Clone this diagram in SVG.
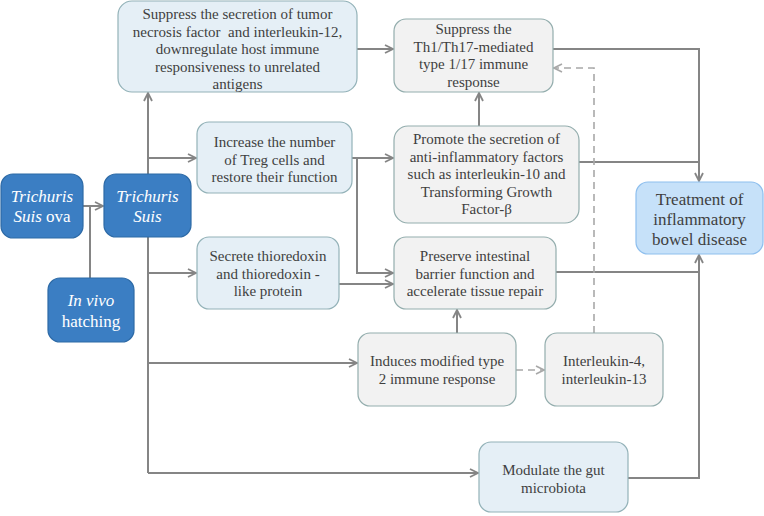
<svg xmlns="http://www.w3.org/2000/svg" width="764" height="516" viewBox="0 0 764 516">
  <style>
    text { font-family: "Liberation Serif", "DejaVu Serif", serif; }
    .blue rect { fill: #3B7EC3; stroke: #2D6AA6; stroke-width: 1.2; }
    .blue text { fill: #ffffff; font-size: 17px; text-anchor: middle; }
    .pale rect { fill: #E5EFF6; stroke: #93B2B8; stroke-width: 1.2; }
    .grey rect { fill: #F2F2F2; stroke: #93ADAD; stroke-width: 1.2; }
    .goal rect { fill: #C6E1F9; stroke: #8EBFEE; stroke-width: 1.2; }
    .plain text { fill: #3F3F3F; font-size: 15px; text-anchor: middle; }
    .goal text { font-size: 17px; }
    .it { font-style: italic; }
    #connectors path { fill: none; stroke: #858585; stroke-width: 2; }
    #connectors path.dash { stroke: #A8A8A8; stroke-width: 1.6; stroke-dasharray: 7 5; }
  </style>
  <defs>
    <marker id="arr" viewBox="0 0 10 10" refX="9" refY="5" markerWidth="10" markerHeight="10" markerUnits="userSpaceOnUse" orient="auto">
      <path d="M1,1 L9,5 L1,9" fill="none" stroke="#858585" stroke-width="1.8"/>
    </marker>
    <marker id="arrd" viewBox="0 0 10 10" refX="9" refY="5" markerWidth="10" markerHeight="10" markerUnits="userSpaceOnUse" orient="auto">
      <path d="M1,1 L9,5 L1,9" fill="none" stroke="#A8A8A8" stroke-width="1.6"/>
    </marker>
  </defs>

  <g id="connectors">
    <path d="M83,206 H103" marker-end="url(#arr)"/>
    <path d="M90,278 V206"/>
    <path d="M148,473 V93" marker-end="url(#arr)"/>
    <path d="M148,158 H196" marker-end="url(#arr)"/>
    <path d="M148,273 H196" marker-end="url(#arr)"/>
    <path d="M148,363 H357" marker-end="url(#arr)"/>
    <path d="M148,473 H478" marker-end="url(#arr)"/>
    <path d="M357,49 H393" marker-end="url(#arr)"/>
    <path d="M352,158 H393" marker-end="url(#arr)"/>
    <path d="M357,158 V273 H393" marker-end="url(#arr)"/>
    <path d="M339,284 H393" marker-end="url(#arr)"/>
    <path d="M479,126 V93" marker-end="url(#arr)"/>
    <path d="M457,333 V310" marker-end="url(#arr)"/>
    <path d="M553,49 H699 V181" marker-end="url(#arr)"/>
    <path d="M579,162 H699"/>
    <path d="M556,272 H699"/>
    <path d="M628,478 H699 V255" marker-end="url(#arr)"/>
    <path class="dash" d="M516,370 H544" marker-end="url(#arrd)"/>
    <path class="dash" d="M594,333 V68 H554" marker-end="url(#arrd)"/>
  </g>

  <g id="ova" class="blue">
    <rect x="1" y="174" width="82" height="64" rx="12"/>
    <text x="42" y="202"><tspan class="it">Trichuris</tspan></text>
    <text x="42" y="222"><tspan class="it">Suis</tspan> ova</text>
  </g>
  <g id="suis" class="blue">
    <rect x="104" y="174" width="87" height="63" rx="12"/>
    <text x="147.5" y="202" class="it">Trichuris</text>
    <text x="147.5" y="222" class="it">Suis</text>
  </g>
  <g id="hatching" class="blue">
    <rect x="48" y="278" width="86" height="64" rx="12"/>
    <text x="91" y="306" class="it">In vivo</text>
    <text x="91" y="327">hatching</text>
  </g>

  <g id="suppress-tnf" class="plain pale">
    <rect x="118" y="1" width="239" height="91" rx="14"/>
    <text x="237.5" y="19">Suppress the secretion of tumor</text>
    <text x="237.5" y="36.5" xml:space="preserve">necrosis factor  and interleukin-12,</text>
    <text x="237.5" y="54">downregulate host immune</text>
    <text x="237.5" y="71.5">responsiveness to unrelated</text>
    <text x="237.5" y="89">antigens</text>
  </g>
  <g id="suppress-th" class="plain grey">
    <rect x="394" y="19" width="159" height="73" rx="12"/>
    <text x="473.5" y="34">Suppress the</text>
    <text x="473.5" y="51.5">Th1/Th17-mediated</text>
    <text x="473.5" y="69">type 1/17 immune</text>
    <text x="473.5" y="86.5">response</text>
  </g>
  <g id="treg" class="plain pale">
    <rect x="197" y="122" width="155" height="71" rx="12"/>
    <text x="274.5" y="147">Increase the number</text>
    <text x="274.5" y="164.5">of Treg cells and</text>
    <text x="274.5" y="182">restore their function</text>
  </g>
  <g id="promote" class="plain grey">
    <rect x="394" y="126" width="185" height="97" rx="14"/>
    <text x="486.5" y="144">Promote the secretion of</text>
    <text x="486.5" y="161.5">anti-inflammatory factors</text>
    <text x="486.5" y="179">such as interleukin-10 and</text>
    <text x="486.5" y="196.5">Transforming Growth</text>
    <text x="486.5" y="214">Factor-β</text>
  </g>
  <g id="thioredoxin" class="plain pale">
    <rect x="197" y="237" width="142" height="72" rx="12"/>
    <text x="268" y="261">Secrete thioredoxin</text>
    <text x="268" y="278.5">and thioredoxin -</text>
    <text x="268" y="296">like protein</text>
  </g>
  <g id="barrier" class="plain grey">
    <rect x="394" y="237" width="162" height="72" rx="12"/>
    <text x="475" y="261">Preserve intestinal</text>
    <text x="475" y="278.5">barrier function and</text>
    <text x="475" y="296">accelerate tissue repair</text>
  </g>
  <g id="type2" class="plain grey">
    <rect x="358" y="333" width="158" height="73" rx="12"/>
    <text x="437" y="366">Induces modified type</text>
    <text x="437" y="384">2 immune response</text>
  </g>
  <g id="il4-il13" class="plain grey">
    <rect x="545" y="333" width="118" height="73" rx="12"/>
    <text x="604" y="366">Interleukin-4,</text>
    <text x="604" y="384">interleukin-13</text>
  </g>
  <g id="microbiota" class="plain pale">
    <rect x="479" y="442" width="149" height="70" rx="12"/>
    <text x="553.5" y="475">Modulate the gut</text>
    <text x="553.5" y="492.5">microbiota</text>
  </g>
  <g id="ibd" class="plain goal">
    <rect x="636" y="182" width="127" height="72" rx="12"/>
    <text x="699.5" y="205">Treatment of</text>
    <text x="699.5" y="225">inflammatory</text>
    <text x="699.5" y="245">bowel disease</text>
  </g>
</svg>
